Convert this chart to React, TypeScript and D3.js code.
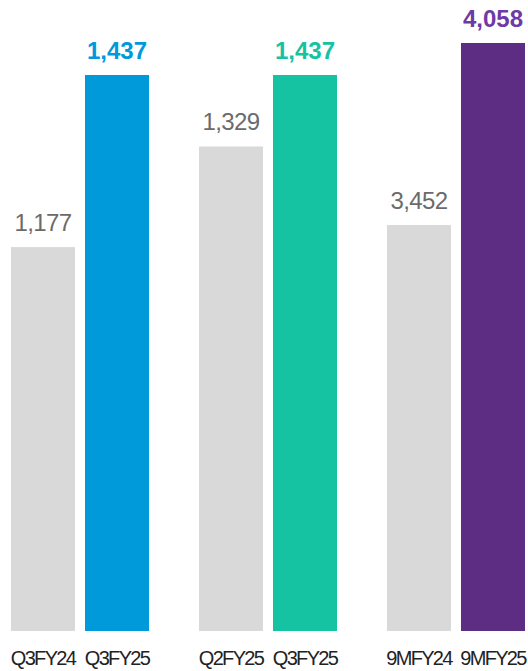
import React from "react";
import * as d3 from "d3";

const groups = ["g1", "g2", "g3"];
const categories = ["Q3FY24", "Q3FY25", "Q2FY25", "Q3FY25", "9MFY24", "9MFY25"];
const values = [1177, 1437, 1329, 1437, 3452, 4058];
const labels = ["1,177", "1,437", "1,329", "1,437", "3,452", "4,058"];
const barColors = ["#d9d9d9", "#0099da", "#d9d9d9", "#15c3a3", "#d9d9d9", "#5c2d82"];
const labelColors = ["#6b6b6b", "#0099da", "#6b6b6b", "#15c3a3", "#6b6b6b", "#6e3aa6"];
const bold = [false, true, false, true, false, true];
// per-group value domains (the original uses a truncated axis per panel)
const groupDomains: [number, number][] = [
  [597, 1437],
  [597, 1437],
  [2100, 4058],
];

const W = 528;
const H = 671;
const baseY = 631;

export default function App() {
  const outer = d3
    .scaleBand<string>()
    .domain(groups)
    .range([11 - 50 * 0, 11 + 188 * 3 - 50])
    .paddingInner(50 / 188)
    .paddingOuter(0);
  const inner = d3
    .scaleBand<number>()
    .domain([0, 1])
    .range([0, outer.bandwidth()])
    .paddingInner(10 / 74)
    .paddingOuter(0);

  return (
    <svg
      width={W}
      height={H}
      style={{ position: "absolute", left: 0, top: 0, background: "#fff" }}
    >
      {values.map((v, i) => {
        const g = Math.floor(i / 2);
        const [d0, d1] = groupDomains[g];
        const top = g === 2 ? 43 : 75;
        const y = d3.scaleLinear().domain([d0, d1]).range([baseY, top]);
        const x = (outer(groups[g]) as number) + (inner(i % 2) as number);
        const bw = inner.bandwidth();
        const cx = x + bw / 2;
        return (
          <g key={i}>
            <rect x={x} y={y(v)} width={bw} height={baseY - y(v)} fill={barColors[i]} />
            <text
              x={cx}
              y={y(v) - 16}
              textAnchor="middle"
              fontFamily="'Liberation Sans', Arial, sans-serif"
              fontSize={24}
              fontWeight={bold[i] ? 700 : 400}
              letterSpacing={bold[i] ? 0 : -0.6}
              fill={labelColors[i]}
            >
              {labels[i]}
            </text>
            <text
              x={cx}
              y={665}
              textAnchor="middle"
              fontFamily="'Liberation Sans', Arial, sans-serif"
              fontSize={20}
              letterSpacing={-1.7}
              fill="#222"
            >
              {categories[i]}
            </text>
          </g>
        );
      })}
    </svg>
  );
}
